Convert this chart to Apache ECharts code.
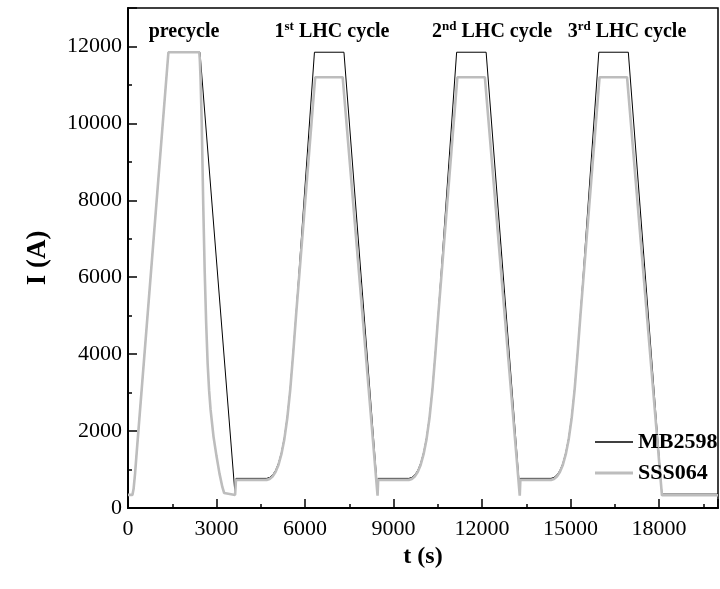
<!DOCTYPE html>
<html><head><meta charset="utf-8">
<script src="https://cdn.jsdelivr.net/npm/echarts@6/dist/echarts.min.js"></script>
<style>html,body{margin:0;padding:0;background:#fff}#c{width:720px;height:589px}</style>
</head><body><div id="c"></div>
<script>
// ---- data ----
const mbName = 'MB2598';
const sssName = 'SSS064';

const mbTime = [0, 150, 190, 240, 300, 1370, 2440, 3630, 3660,
  4700, 4800, 4900, 5000, 5100, 5200, 5300, 5400, 5500, 5600, 5700, 6320, 7320, 8460, 8480,
  9520, 9620, 9720, 9820, 9920, 10020, 10120, 10220, 10320, 10420, 10520, 11140, 12140, 13280, 13300,
  14340, 14440, 14540, 14640, 14740, 14840, 14940, 15040, 15140, 15240, 15340, 15960, 16960, 18100, 20000];
const mbCurrent = [340, 340, 500, 900, 1500, 11850, 11850, 340, 770,
  770, 795, 860, 975, 1160, 1440, 1830, 2380, 3120, 4060, 5080, 11850, 11850, 450, 770,
  770, 795, 860, 975, 1160, 1440, 1830, 2380, 3120, 4060, 5080, 11850, 11850, 450, 770,
  770, 795, 860, 975, 1160, 1440, 1830, 2380, 3120, 4060, 5080, 11850, 11850, 360, 360];

const sssTime = [0, 150, 190, 240, 300, 1370, 2417, 2435, 2460, 2500, 2550, 2600, 2650, 2700, 2750, 2800, 2900, 3000, 3100, 3200, 3260, 3300, 3630, 3660,
  4700, 4800, 4900, 5000, 5100, 5200, 5300, 5400, 5500, 5600, 5700, 6345, 7277, 8460, 8480,
  9520, 9620, 9720, 9820, 9920, 10020, 10120, 10220, 10320, 10420, 10520, 11165, 12097, 13280, 13300,
  14340, 14440, 14540, 14640, 14740, 14840, 14940, 15040, 15140, 15240, 15340, 15985, 16917, 18100, 20000];
const sssCurrent = [340, 340, 500, 900, 1500, 11850, 11850, 11650, 11150, 10000, 7900, 6150, 4800, 3750, 3050, 2550, 1850, 1350, 900, 540, 390, 340, 340, 730,
  730, 755, 820, 935, 1120, 1400, 1790, 2340, 3080, 4020, 5040, 11200, 11200, 320, 730,
  730, 755, 820, 935, 1120, 1400, 1790, 2340, 3080, 4020, 5040, 11200, 11200, 320, 730,
  730, 755, 820, 935, 1120, 1400, 1790, 2340, 3080, 4020, 5040, 11200, 11200, 330, 330];

// axes
const xMin = 0, xMax = 20000, xStep = 3000;
const yMin = 0, yMax = 13000, yStep = 2000;

// annotations
const annoMain = ['precycle', '1', '2', '3'];
const annoSup = ['', 'st', 'nd', 'rd'];
const annoTail = ['', ' LHC cycle', ' LHC cycle', ' LHC cycle'];
const annoTime = [1900, 6915, 12340, 16915];
const annoLevel = 12380;

// ---- chart ----
const serif = 'Liberation Serif, Times New Roman, serif';
const zip = (a, b) => a.map((v, i) => [v, b[i]]);
const chart = echarts.init(document.getElementById('c'), null, {renderer: 'canvas'});

const legendText = {fontFamily: serif, fontSize: 22, fontWeight: 'bold', color: '#000'};
chart.setOption({
  animation: false,
  backgroundColor: '#fff',
  grid: {left: 128, right: 2, top: 8, bottom: 81, show: true, borderColor: '#000', borderWidth: 1.5, backgroundColor: 'transparent'},
  xAxis: {
    type: 'value', min: xMin, max: xMax, interval: xStep,
    name: 't (s)', nameLocation: 'middle', nameGap: 37,
    nameTextStyle: {fontFamily: serif, fontSize: 24, fontWeight: 'bold', color: '#000'},
    axisLine: {show: true, onZero: false, lineStyle: {color: '#000', width: 2}},
    axisTick: {show: true, inside: true, length: 9, lineStyle: {color: '#000', width: 1.5}},
    minorTick: {show: true, splitNumber: 2, length: 4, lineStyle: {color: '#000', width: 1.5}},
    splitLine: {show: false},
    axisLabel: {fontFamily: serif, fontSize: 22, color: '#000', margin: 10, showMaxLabel: false, formatter: v => String(v)}
  },
  yAxis: {
    type: 'value', min: yMin, max: yMax, interval: yStep,
    name: 'I (A)', nameLocation: 'middle', nameGap: 76, nameRotate: 90,
    nameTextStyle: {fontFamily: serif, fontSize: 27, fontWeight: 'bold', color: '#000', padding: [0, 0, 0, 0]},
    axisLine: {show: true, onZero: false, lineStyle: {color: '#000', width: 2}},
    axisTick: {show: true, inside: true, length: 9, lineStyle: {color: '#000', width: 1.5}},
    minorTick: {show: true, splitNumber: 2, length: 4, lineStyle: {color: '#000', width: 1.5}},
    splitLine: {show: false},
    axisLabel: {fontFamily: serif, fontSize: 22, color: '#000', margin: 6, showMaxLabel: false, formatter: v => String(v)}
  },
  legend: [
    {data: [{name: mbName, icon: 'rect'}], left: 595, top: 431, padding: 0, itemWidth: 38, itemHeight: 1.5, itemGap: 0, textStyle: legendText, selectedMode: false},
    {data: [{name: sssName, icon: 'rect'}], left: 595, top: 462, padding: 0, itemWidth: 38, itemHeight: 3, itemGap: 0, textStyle: legendText, selectedMode: false}
  ],
  series: [
    {name: mbName, type: 'line', data: zip(mbTime, mbCurrent), showSymbol: false, symbol: 'none',
     lineStyle: {color: '#000', width: 1}, itemStyle: {color: '#000'}},
    {name: sssName, type: 'line', data: zip(sssTime, sssCurrent), showSymbol: false, symbol: 'none',
     lineStyle: {color: '#bdbdbd', width: 2.6}, itemStyle: {color: '#bdbdbd'}}
  ]
});

const rich = {
  m: {fontFamily: serif, fontSize: 20, fontWeight: 'bold', fill: '#000', lineHeight: 24},
  s: {fontFamily: serif, fontSize: 13, fontWeight: 'bold', fill: '#000', verticalAlign: 'top', lineHeight: 24}
};
const graphics = annoMain.map((m, i) => {
  const p = chart.convertToPixel({gridIndex: 0}, [annoTime[i], annoLevel]);
  let txt = '{m|' + m + '}';
  if (annoSup[i]) txt += '{s|' + annoSup[i] + '}';
  if (annoTail[i]) txt += '{m|' + annoTail[i] + '}';
  return {type: 'text', x: p[0], y: p[1], z: 100,
    style: {text: txt, rich: rich, align: 'center', verticalAlign: 'middle', fill: '#000'}};
});
chart.setOption({graphic: graphics});
</script></body></html>
